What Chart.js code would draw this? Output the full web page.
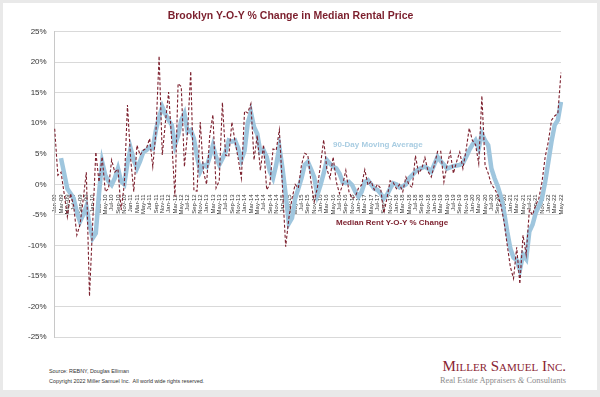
<!DOCTYPE html>
<html>
<head>
<meta charset="utf-8">
<script src="https://cdn.jsdelivr.net/npm/chart.js@4/dist/chart.umd.min.js"></script>
<style>
  body { margin:0; background:#e9e9e9; width:600px; height:397px; overflow:hidden; font-family:"Liberation Sans", Arial, sans-serif; }
  #card { position:absolute; left:3px; top:3px; width:594px; height:387px; background:#fff; }
  #wrap { position:absolute; left:0; top:0; width:600px; height:350px; }
  .note { position:absolute; font-weight:bold; font-size:8px; white-space:nowrap; }
  .foot { position:absolute; left:49px; font-size:5.4px; color:#333; white-space:nowrap; }
  #logo1 { position:absolute; right:34px; top:358px; font-family:"Liberation Serif", serif; font-variant:small-caps; font-size:15px; color:#8a2432; white-space:nowrap; }
  #logo2 { position:absolute; right:34px; top:376px; font-family:"Liberation Serif", serif; font-size:8.4px; color:#8c8c8c; white-space:nowrap; }
</style>
</head>
<body>
<div id="card"></div>
<div id="wrap"><canvas id="myChart"></canvas></div>
<div class="note" style="left:333px; top:140px; color:#a9cde2;">90-Day Moving Average</div>
<div class="note" style="left:336px; top:218px; color:#7b1e2c;">Median Rent Y-O-Y % Change</div>
<div class="foot" style="top:368px;">Source: REBNY, Douglas Elliman</div>
<div class="foot" style="top:378px;">Copyright 2022 Miller Samuel Inc.&nbsp; All world wide rights reserved.</div>
<div id="logo1">Miller Samuel Inc.</div>
<div id="logo2">Real Estate Appraisers <i>&amp;</i> Consultants</div>
<script>
// month labels Jan-09 .. May-22
const monthNames = ["Jan","Feb","Mar","Apr","May","Jun","Jul","Aug","Sep","Oct","Nov","Dec"];
const startYear = 2009;
const monthCount = 161;

// median rent y-o-y % change (monthly)
const rentChange = [9.1,1.5,2.0,-1.5,-5.3,-1.5,-3.5,-8.3,-6.6,-2.5,
  2.0,-18.3,-6.5,5.3,0.4,4.5,-1.2,-0.7,4.0,2.0,
  2.5,-4.2,0.0,13.0,4.2,-1.2,6.4,4.8,5.6,5.9,
  7.5,2.9,8.6,21.0,4.8,10.2,15.1,7.0,-2.0,16.5,
  16.0,2.9,8.6,18.5,-1.0,-1.1,10.2,2.1,0.0,8.0,
  11.4,-0.6,0.6,13.4,4.8,4.5,10.2,7.0,4.2,1.0,
  12.0,11.7,13.2,4.0,8.0,2.3,6.5,-0.9,0.0,5.8,
  5.6,8.9,-0.6,-10.2,-5.5,-2.3,0.0,-0.6,3.2,5.1,
  4.8,0.4,-2.8,-0.6,3.2,7.3,2.5,1.0,4.5,0.4,
  -1.5,-0.1,2.3,-1.2,-2.3,-2.0,-0.6,-0.1,2.4,-0.1,
  0.5,-0.9,0.0,-0.6,-4.7,-2.3,0.6,0.3,-0.7,0.0,
  -1.2,1.2,-0.1,-0.5,4.7,1.8,2.6,4.4,2.1,1.2,
  3.2,5.4,5.4,0.4,3.2,5.3,1.8,3.7,5.3,2.6,
  5.6,9.2,7.2,6.5,3.4,14.5,3.2,1.8,0.0,-0.7,
  -1.7,-3.4,-6.1,-9.9,-13.5,-15.4,-10.3,-16.3,-8.3,-11.5,
  -4.2,-5.0,-3.4,-2.3,0.4,4.5,7.0,10.5,11.2,11.6,
  18.3];

// 90-day moving average
const movingAvg = [null,null,4.3,1.8,-0.7,-1.5,-2.3,-4.5,-6.1,-5.0,
  -3.6,-6.5,-8.8,-8.0,-1.5,3.7,1.5,0.5,-0.1,1.0,
  2.6,0.5,0.0,3.5,5.9,4.0,2.6,3.8,5.3,5.6,
  6.1,5.9,8.9,11.0,12.7,11.5,10.5,9.7,6.4,8.0,
  10.5,11.6,8.6,8.9,7.5,4.5,2.1,3.2,2.9,4.5,
  6.4,4.5,3.2,4.2,5.3,7.2,7.0,7.2,5.9,4.0,
  5.5,10.0,11.8,9.4,8.3,5.3,5.6,4.5,2.1,1.0,
  3.2,6.1,2.6,-1.7,-6.4,-5.5,-2.3,-0.7,1.0,3.2,
  3.7,2.5,1.2,-1.7,-0.1,1.8,4.0,3.4,2.9,2.6,
  1.8,0.4,0.2,0.4,-0.1,-1.2,-2.0,-1.2,0.4,0.7,
  0.0,-0.7,-0.9,-1.5,-2.3,-1.7,-0.7,0.2,0.0,-0.5,
  -0.3,0.0,1.0,1.5,2.1,2.5,2.7,2.9,2.6,2.1,
  3.3,4.5,3.8,3.2,2.6,2.8,3.0,3.1,3.2,3.5,
  4.5,5.6,6.5,7.2,5.9,8.3,7.2,6.4,2.6,1.0,
  -0.3,-2.0,-4.5,-7.7,-10.5,-12.0,-12.4,-14.0,-11.5,-12.2,
  -7.7,-6.6,-4.7,-3.6,-2.3,0.4,3.7,7.0,9.7,10.5,
  13.5];

const yTicks = [-25,-20,-15,-10,-5,0,5,10,15,20,25];

const labels = [];
for (let i = 0; i < monthCount; i++) {
  const yy = String((startYear + Math.floor(i / 12)) % 100).padStart(2, "0");
  labels.push(monthNames[i % 12] + "-" + yy);
}

Chart.defaults.font.family = '"Liberation Sans", Arial, sans-serif';

new Chart(document.getElementById("myChart"), {
  type: 'line',
  data: {
    labels: labels,
    datasets: [
      {
        label: "Median Rent Y-O-Y % Change",
        data: rentChange,
        borderColor: "#7b1e2c",
        borderWidth: 1.1,
        borderDash: [3, 2],
        pointRadius: 0,
        tension: 0,
        order: 1
      },
      {
        label: "90-Day Moving Average",
        data: movingAvg,
        borderColor: "#9fc6de",
        borderWidth: 4.5,
        pointRadius: 0,
        tension: 0,
        order: 2
      }
    ]
  },
  options: {
    responsive: true,
    maintainAspectRatio: false,
    animation: false,
    layout: { padding: { left: 20, right: 39, top: 4, bottom: 6 } },
    plugins: {
      legend: { display: false },
      tooltip: { enabled: false },
      title: {
        display: true,
        text: 'Brooklyn Y-O-Y % Change in Median Rental Price',
        color: '#7b1e2c',
        font: { size: 10.5, weight: 'bold' },
        padding: { top: 6, bottom: 9 }
      }
    },
    scales: {
      x: {
        position: { y: 0 },
        grid: { display: false },
        border: { display: false },
        ticks: {
          autoSkip: false,
          maxRotation: 90,
          minRotation: 90,
          padding: 2,
          color: '#333',
          font: { size: 6 },
          callback: function(v, i) { return i % 2 === 0 ? labels[i] : ''; }
        }
      },
      y: {
        min: yTicks[0],
        max: yTicks[yTicks.length - 1],
        afterBuildTicks: function(axis) { axis.ticks = yTicks.map(v => ({ value: v })); },
        grid: { color: '#d9d9d9', drawTicks: false },
        border: { color: '#c8c8c8' },
        ticks: {
          padding: 8,
          color: '#333',
          font: { size: 8 },
          callback: function(v) { return v + '%'; }
        }
      }
    }
  }
});
</script>
</body>
</html>
